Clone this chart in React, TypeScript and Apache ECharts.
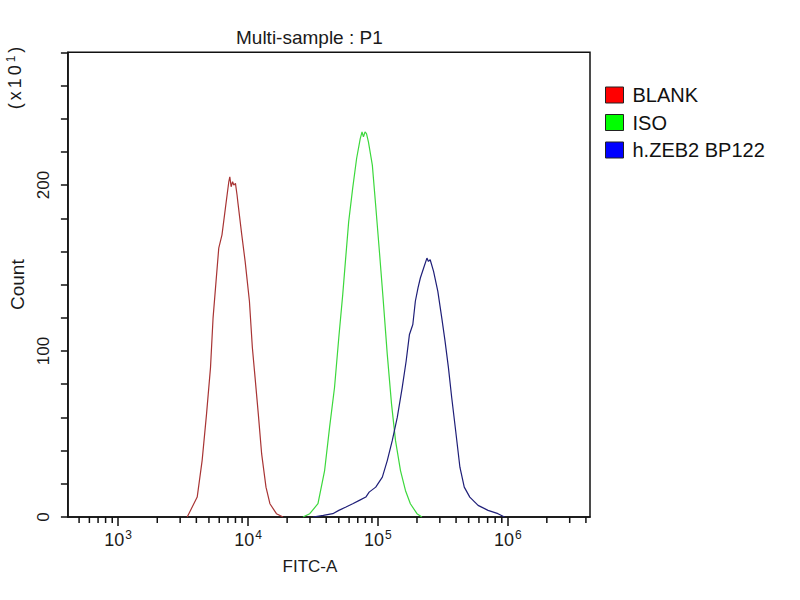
import React, { useEffect, useRef } from 'react';
import * as echarts from 'echarts';

// ---- data ----
const seriesNames = ['BLANK', 'ISO', 'h.ZEB2 BP122'];
const legendColors = ['#ff0000', '#00ff00', '#0000ff'];
const lineColors = ['#a83434', '#3cd83c', '#1e1e78'];

// FITC-A intensity (x) and count in units of 10^1 (y)
const blankFitc = [3400, 4060, 4430, 4790, 5140, 5380, 5670, 5950, 6300, 6690, 7110, 7240, 7410, 7600, 7770, 8000, 8230, 8370, 8950, 9500, 10250, 10800, 11330, 12000, 12730, 13750, 14740, 16550, 18600];
const blankCount = [0, 12, 34, 62, 90, 120, 142, 162, 170, 186, 202, 205, 199, 202, 200, 201, 194, 189, 170, 154, 130, 102, 84, 62, 38, 18, 8, 2, 0];

const isoFitc = [26500, 29870, 34560, 38880, 42460, 46350, 49990, 53610, 56220, 59580, 63940, 68570, 73130, 75500, 77400, 79600, 81700, 84550, 90630, 96100, 103200, 109600, 118100, 127400, 136700, 149300, 163000, 177900, 200000, 218400];
const isoCount = [0, 2, 8, 28, 54, 78, 108, 134, 154, 178, 198, 216, 228, 232, 229, 232, 231, 226, 212, 188, 158, 132, 98, 68, 46, 28, 16, 8, 2, 0];

const zebFitc = [31620, 38000, 44960, 50000, 56800, 64000, 71950, 80760, 85640, 96250, 108200, 118100, 129000, 141000, 153900, 165100, 175000, 185800, 194300, 203700, 212300, 225100, 238600, 245000, 252800, 268400, 289500, 310400, 329000, 349300, 370200, 397100, 428200, 462500, 510300, 591300, 705100, 841000, 944000];
const zebCount = [0, 1, 2, 4, 6, 8, 10, 12, 15, 18, 24, 34, 46, 60, 78, 94, 110, 116, 130, 138, 144, 150, 156, 154, 155, 148, 136, 120, 106, 90, 72, 52, 30, 18, 12, 7, 4, 2, 0];

// axis ranges / ticks
const xMin = 410;
const xMax = 4300000;
const yMin = 0;
const yMax = 280;
const yTickStep = 20;
const yLabelStep = 100;
const decades = [100, 1000, 10000, 100000, 1000000];
const minorMultipliers = [2, 3, 4, 5, 6, 7, 8, 9];

const FONT = '"Liberation Sans", Arial, sans-serif';
const INK = '#1a1a1a';

function pairs(xs: number[], ys: number[]) {
  return xs.map((x, i) => [x, ys[i]]);
}

export default function App() {
  const ref = useRef<HTMLDivElement>(null);

  useEffect(() => {
    if (!ref.current) return;
    const chart = echarts.init(ref.current, undefined, { renderer: 'svg' });

    const minorTicks: number[][] = [];
    decades.forEach((d) => {
      minorMultipliers.forEach((m) => {
        const v = d * m;
        if (v > xMin && v < xMax) minorTicks.push([v, 0]);
      });
    });

    const xs = [blankFitc, isoFitc, zebFitc];
    const ys = [blankCount, isoCount, zebCount];

    const lineSeries = seriesNames.map((name, i) => ({
      name,
      type: 'line',
      data: pairs(xs[i], ys[i]),
      showSymbol: false,
      symbol: 'none',
      itemStyle: { color: legendColors[i] },
      lineStyle: { color: lineColors[i], width: 1.2 },
      z: 3,
    }));

    const sp = { fontSize: 18, fill: INK, fontFamily: FONT, padding: [0, 1.5, 0, 1.5] };

    chart.setOption({
      animation: false,
      backgroundColor: '#ffffff',
      textStyle: { fontFamily: FONT },
      title: {
        text: 'Multi-sample : P1',
        left: 236,
        top: 28,
        padding: 0,
        textStyle: { fontFamily: FONT, fontSize: 19, fontWeight: 'normal', color: INK },
      },
      legend: {
        data: seriesNames,
        orient: 'vertical',
        left: 605,
        top: 85,
        padding: 0,
        icon: 'rect',
        itemWidth: 18,
        itemHeight: 16,
        itemGap: 7.5,
        itemStyle: { borderColor: '#222', borderWidth: 1 },
        textStyle: { fontFamily: FONT, fontSize: 20, color: '#111', lineHeight: 16, padding: [0, 0, 0, 4] },
      },
      graphic: [
        {
          type: 'text',
          x: 15,
          y: 78,
          rotation: Math.PI / 2,
          style: {
            text: '{a|(}{a|x}{a|1}{a|0}{s|1}{a|)}',
            fontFamily: FONT,
            fontSize: 18,
            fill: INK,
            align: 'center',
            verticalAlign: 'middle',
            rich: {
              a: sp,
              s: { fontSize: 12, fill: INK, fontFamily: FONT, verticalAlign: 'bottom', padding: [0, 1.5, 9, 1.5] },
            },
          },
        },
      ],
      grid: {
        left: 62.7,
        right: 210,
        top: 52.3,
        bottom: 83,
        show: true,
        borderColor: '#111',
        borderWidth: 1.5,
        backgroundColor: 'transparent',
      },
      xAxis: {
        type: 'log',
        logBase: 10,
        min: xMin,
        max: xMax,
        name: 'FITC-A',
        nameLocation: 'middle',
        nameGap: 41,
        nameTextStyle: { fontFamily: FONT, fontSize: 17, color: INK, padding: [0, 38, 0, 0] },
        axisLine: { show: true, lineStyle: { color: '#111', width: 1.5 } },
        axisTick: { show: true, length: 9, lineStyle: { color: '#111', width: 1.5 } },
        splitLine: { show: false },
        minorTick: { show: false },
        axisLabel: {
          showMinLabel: false,
          showMaxLabel: false,
          margin: 12,
          formatter: (v: number) => '{b|10}{s|' + Math.round(Math.log10(v)) + '}',
          rich: {
            b: { fontSize: 18, color: INK, fontFamily: FONT, verticalAlign: 'bottom' },
            s: { fontSize: 12, color: INK, fontFamily: FONT, verticalAlign: 'bottom', padding: [0, 0, 8, 1] },
          },
        },
      },
      yAxis: {
        type: 'value',
        min: yMin,
        max: yMax,
        interval: yTickStep,
        name: 'Count',
        nameLocation: 'middle',
        nameGap: 38,
        nameTextStyle: { fontFamily: FONT, fontSize: 19, color: INK },
        axisLine: { show: true, lineStyle: { color: '#111', width: 1.5 } },
        axisTick: { show: true, length: 7, lineStyle: { color: '#111', width: 1.5 } },
        splitLine: { show: false },
        axisLabel: {
          rotate: 90,
          margin: 16,
          fontSize: 17,
          color: INK,
          fontFamily: FONT,
          formatter: (v: number) => (v % yLabelStep === 0 ? String(v) : ''),
        },
      },
      series: [
        ...lineSeries,
        {
          name: 'minorTicks',
          type: 'custom',
          silent: true,
          clip: false,
          data: minorTicks,
          encode: { x: 0, y: 1 },
          renderItem: (params: any, api: any) => {
            const p = api.coord([api.value(0), 0]);
            return {
              type: 'line',
              shape: { x1: p[0], y1: p[1], x2: p[0], y2: p[1] + 6 },
              style: { stroke: '#111', lineWidth: 1.5 },
            };
          },
          z: 4,
        },
      ],
    });

    return () => chart.dispose();
  }, []);

  return (
    <div
      ref={ref}
      style={{ position: 'fixed', left: 0, top: 0, width: 800, height: 600, background: '#fff' }}
    />
  );
}
